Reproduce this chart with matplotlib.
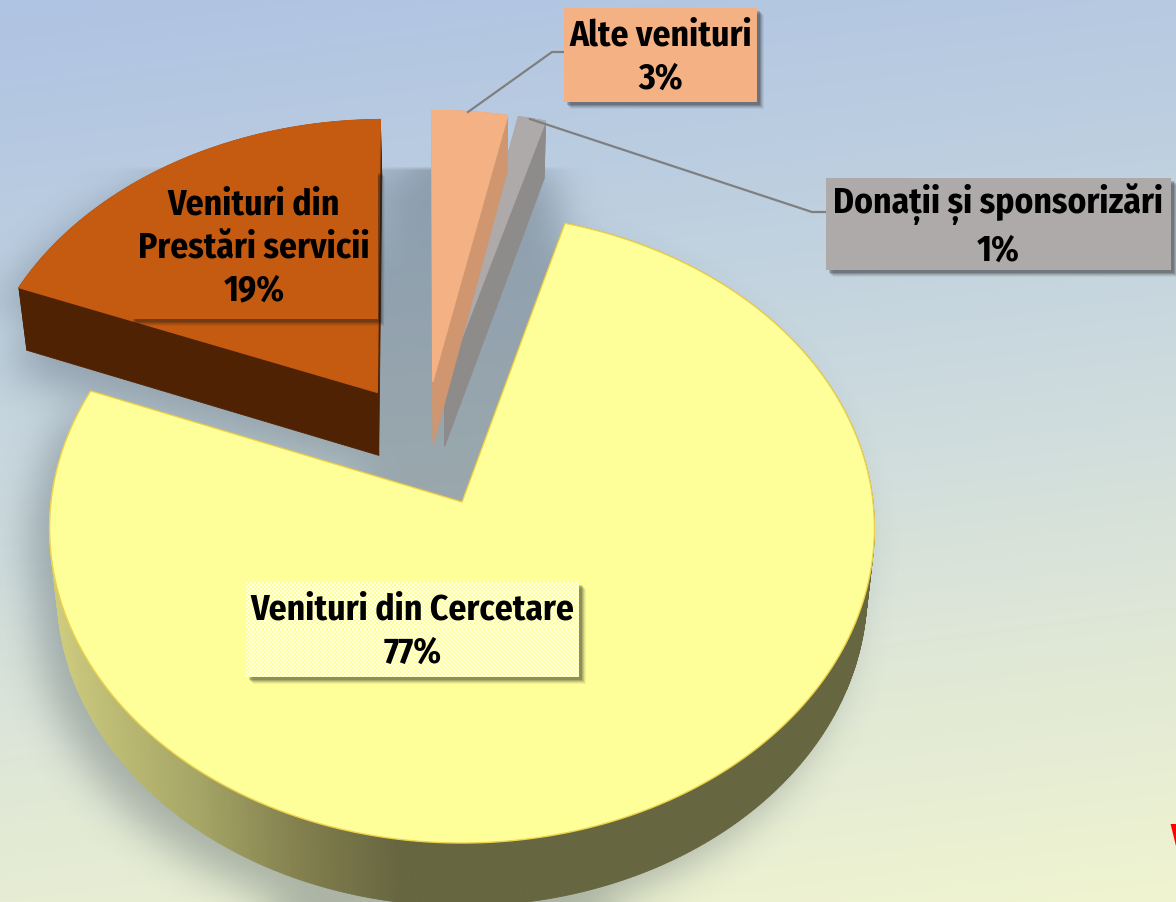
import numpy as np
import matplotlib
matplotlib.use('Agg')
import matplotlib.pyplot as plt
from matplotlib.patches import Polygon, Rectangle
from matplotlib.path import Path
from matplotlib.colors import to_rgb

plt.rcParams['font.family'] = ['Fira Sans Condensed', 'IBM Plex Sans Condensed', 'Liberation Sans', 'DejaVu Sans']

#chart data, in the clockwise order of the slices starting from the top
categories = ['Alte venituri', 'Donații și sponsorizări', 'Venituri din Cercetare', 'Venituri din Prestări servicii']
values = [3.3, 1.2, 76.6, 18.9]
percent_labels = ['3%', '1%', '77%', '19%']
explode = [0.21, 0.21, 0.21, 0.21]
top_colors = ['#f4b183', '#aeaaaa', '#ffff99', '#c55a11']
side_colors = ['#cf9670', '#8e8b8b', '#666640', '#4f2204']
edge_colors = ['#f4b183', '#aeaaaa', '#eed24a', '#c55a11']

W, H = 1176, 902
fig = plt.figure(figsize=(W/100, H/100), dpi=100)
ax = fig.add_axes([0, 0, 1, 1])

#the pie only gives the angles and the exploded centres, they get projected below
wedges, _ = ax.pie(values, startangle=90.5, counterclock=False, explode=explode, radius=1.0, colors=top_colors)
for w in wedges:
    w.set_visible(False)
ax.set_aspect('auto')
ax.set_xlim(0, W)
ax.set_ylim(H, 0)
ax.axis('off')

origin = np.array(wedges[2].center)


def project(u, v):
    #perspective of the tilted plane, back of the pie is smaller than the front
    k = 0.083
    return 462 + 411*u/(1 + k*v), 502 - 312.7*v/(1 + k*v)


def wedge_outline(w):
    t = np.radians(np.linspace(w.theta1, w.theta2, max(int(w.theta2 - w.theta1)*2, 6)))
    cx, cy = np.array(w.center) - origin
    u = np.r_[cx, cx + w.r*np.cos(t)]
    v = np.r_[cy, cy + w.r*np.sin(t)]
    x, y = project(u, v)
    return np.c_[x, y]


def extrude(pts):
    #bottom layer of the slice, a bit narrower because of the perspective
    low = pts.copy()
    low[:, 0] = 462 + (pts[:, 0] - 462)*0.982
    low[:, 1] = pts[:, 1] + np.minimum(54 + 0.03*pts[:, 1], 63)
    return low


outlines = [wedge_outline(w) for w in wedges]

#background gradient
yy, xx = np.mgrid[0:H, 0:W]
t = (yy + 0.13*xx)/(H + 0.13*W)
stops = [0, 0.25, 0.5, 0.75, 1]
bg_r = [175, 188, 205, 224, 240]
bg_g = [195, 206, 219, 232, 244]
bg_b = [227, 224, 222, 214, 208]
bg = np.dstack([np.interp(t, stops, bg_r), np.interp(t, stops, bg_g), np.interp(t, stops, bg_b)])/255
ax.imshow(bg, extent=(0, W, H, 0), aspect='auto', zorder=0)

#soft shadow under the pie
step = 4
gy, gx = np.mgrid[step/2:H:step, step/2:W:step]
grid = np.c_[gx.ravel(), gy.ravel()]
mask = np.zeros(len(grid), dtype=bool)
gap = np.array([[375, 168], [548, 168], [565, 230], [470, 470], [380, 450]])
for pts in outlines + [gap]:
    low = extrude(pts)
    for p in (pts, low):
        shifted = p + [-20, 20] if p is not gap else p
        mask |= Path(shifted).contains_points(grid)
mask = mask.reshape(gx.shape).astype(float)
kernel = np.exp(-0.5*(np.arange(-15, 16)/5.0)**2)
kernel /= kernel.sum()
for axis in (0, 1):
    mask = np.apply_along_axis(lambda r: np.convolve(np.pad(r, 15, mode='edge'), kernel, mode='valid'), axis, mask)
shadow = np.zeros(mask.shape + (4,))
shadow[..., :3] = to_rgb('#2c3a46')
shadow[..., 3] = mask*0.32
shadow[gy < 168, 3] = 0
ax.imshow(shadow, extent=(0, W, H, 0), aspect='auto', zorder=1, interpolation='bilinear')
ax.set_xlim(0, W)
ax.set_ylim(H, 0)

#slices, back to front: big one, orange, gray, peach
grad_x = [60, 200, 300, 400]
grad_r = [205, 165, 131, 102]
grad_g = [203, 165, 128, 102]
grad_b = [126, 102, 78, 64]
z = 2
for i in [2, 3, 1, 0]:
    pts = outlines[i]
    low = extrude(pts)
    n = len(pts)
    quads = []
    for j in range(n):
        j2 = (j + 1) % n
        quads.append(np.array([pts[j], pts[j2], low[j2], low[j]]))
    quads.sort(key=lambda q: q[:, 1].mean())
    for q in quads:
        if i == 2:
            mx = q[:, 0].mean()
            col = (np.interp(mx, grad_x, grad_r)/255, np.interp(mx, grad_x, grad_g)/255, np.interp(mx, grad_x, grad_b)/255)
        else:
            col = side_colors[i]
        ax.add_patch(Polygon(q, closed=True, facecolor=col, edgecolor=col, lw=0.6, zorder=z))
    ax.add_patch(Polygon(pts, closed=True, facecolor=top_colors[i], edgecolor=edge_colors[i], lw=1.0, zorder=z + 0.5))
    z += 1

#leader lines
ax.plot([468, 552, 564], [112, 52, 52], color='#7f7f7f', lw=1.6, zorder=7)
ax.plot([530, 812, 826], [119, 212, 212], color='#7f7f7f', lw=1.6, zorder=7)

#label boxes: x0, y0, x1, y1
boxes = [(564, 8, 757, 102), (826, 178, 1171, 270), (246, 582, 579, 677), (130, 170, 378, 319)]
text_y = [57, 226, 631, 248]
font_size = 25.5
for i, (x0, y0, x1, y1) in enumerate(boxes):
    for off, a in zip([7, 6, 5, 4, 3], [0.06, 0.08, 0.12, 0.16, 0.2]):
        s = Rectangle((x0 + off, y0 + off), x1 - x0, y1 - y0, facecolor='#1a1a1a', edgecolor='none', alpha=a, zorder=8)
        ax.add_patch(s)
        if i == 3:
            #the orange label does not stick out of its slice
            s.set_clip_path(Path(outlines[3] + [6, 6]), ax.transData)
    r = Rectangle((x0, y0), x1 - x0, y1 - y0, facecolor=top_colors[i], edgecolor='none', zorder=8.5)
    ax.add_patch(r)
    if i == 3:
        r.set_clip_path(Path(outlines[3]), ax.transData)
    if i == 2:
        #white dotted texture of the middle label
        ny, nx = int((y1 - y0)/2), int((x1 - x0)/2)
        dots = np.zeros((ny, nx, 4))
        dots[..., :3] = 1
        dots[..., 3] = ((np.indices((ny, nx)).sum(axis=0) % 2) == 0)*0.75
        ax.imshow(dots, extent=(x0, x1, y1, y0), aspect='auto', zorder=8.6, interpolation='nearest')
        ax.set_xlim(0, W)
        ax.set_ylim(H, 0)

label_text = [
    categories[0] + '\n' + percent_labels[0],
    categories[1] + '\n' + percent_labels[1],
    categories[2] + '\n' + percent_labels[2],
    'Venituri din\nPrestări servicii\n' + percent_labels[3],
]
for i, (x0, y0, x1, y1) in enumerate(boxes):
    ax.text((x0 + x1)/2, text_y[i], label_text[i], ha='center', va='center', fontsize=font_size,
            fontweight='bold', color='black', linespacing=1.28, zorder=9)

#piece of the red text cut off at the right edge
ax.text(1170, 822, 'V', color='#ff0000', fontsize=27, fontweight='bold', ha='left', va='top', zorder=9, clip_on=False)

fig.savefig('out.png', dpi=100)
